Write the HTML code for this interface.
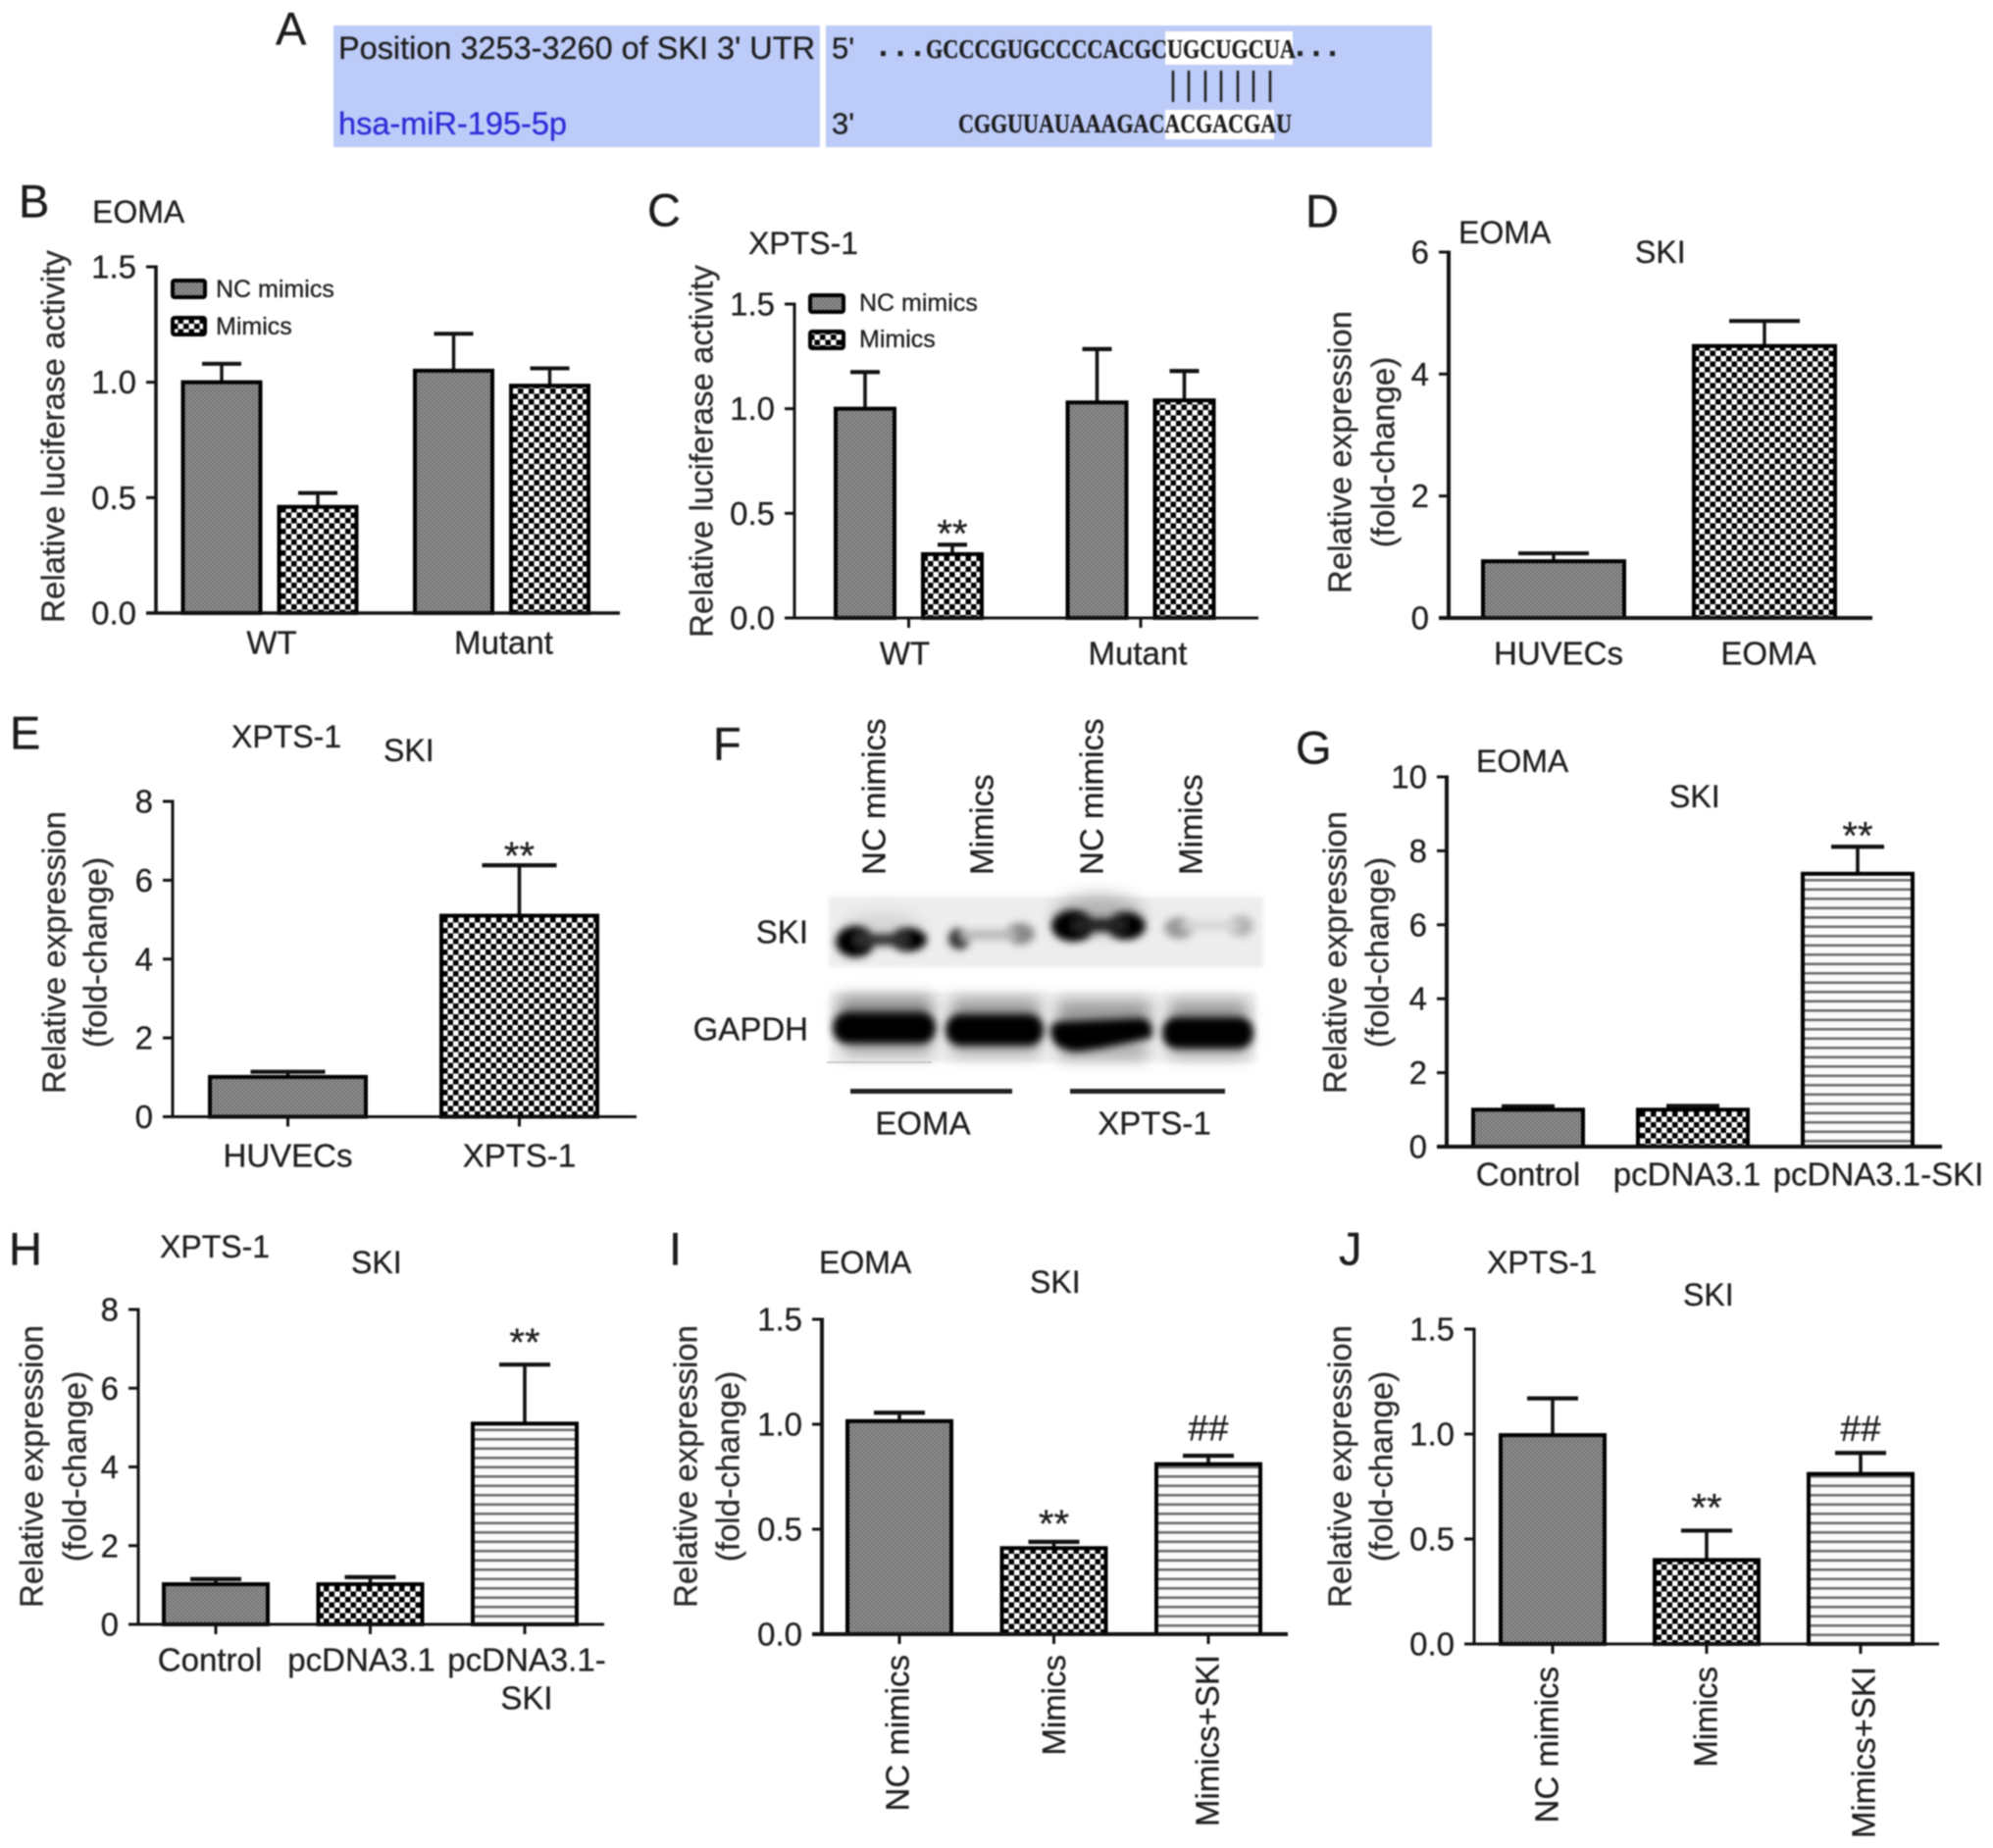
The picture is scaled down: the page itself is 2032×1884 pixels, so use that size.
<!DOCTYPE html>
<html lang="en">
<head>
<meta charset="utf-8">
<title>SKI expression figure</title>
<style>
html,body{margin:0;padding:0;background:#fff;}
#figure{display:block;width:2032px;height:1884px;filter:blur(0.7px);font-family:"Liberation Sans",Arial,sans-serif;fill:#1f1f1f;}
#figure text{dominant-baseline:central;stroke:#1f1f1f;stroke-width:0.3px;}
.letter{font-size:47px;fill:#1c1c1c;}
.title{font-size:32px;}
.ytitle{font-size:33px;fill:#2b2b2b;text-anchor:middle;}
.tick{font-size:33px;}
.seq{font-family:"Liberation Serif",serif;font-weight:bold;font-size:27px;fill:#1c1c1c;}
</style>
</head>
<body>
<svg id="figure" xmlns="http://www.w3.org/2000/svg" width="2032" height="1884" viewBox="0 0 2032 1884">
<defs>
  <pattern id="nc" width="4" height="4" patternUnits="userSpaceOnUse">
    <rect width="4" height="4" fill="#9a9a9a"/><rect width="2" height="2" fill="#686868"/><rect x="2" y="2" width="2" height="2" fill="#686868"/>
  </pattern>
  <pattern id="mim" width="11" height="11" patternUnits="userSpaceOnUse">
    <rect width="11" height="11" fill="#fff"/><rect width="5.5" height="5.5" fill="#000"/><rect x="5.5" y="5.5" width="5.5" height="5.5" fill="#000"/>
  </pattern>
  <pattern id="str" width="9.5" height="9.5" patternUnits="userSpaceOnUse">
    <rect width="9.5" height="9.5" fill="#fbfbfb"/><rect y="3" width="9.5" height="2.6" fill="#6e6e6e"/>
  </pattern>
  <filter id="b2" x="-10%" y="-30%" width="120%" height="160%"><feGaussianBlur stdDeviation="2"/></filter>
  <filter id="b4" x="-30%" y="-80%" width="160%" height="260%"><feGaussianBlur stdDeviation="4"/></filter>
  <filter id="b8" x="-30%" y="-80%" width="160%" height="260%"><feGaussianBlur stdDeviation="8"/></filter>
</defs>
<rect width="2032" height="1884" fill="#fff"/>

<!-- Panel letters -->
<g>
  <text class="letter" x="281" y="29">A</text>
  <text class="letter" x="19" y="205">B</text>
  <text class="letter" x="660" y="214">C</text>
  <text class="letter" x="1331" y="215">D</text>
  <text class="letter" x="10" y="747">E</text>
  <text class="letter" x="727" y="758">F</text>
  <text class="letter" x="1321" y="762">G</text>
  <text class="letter" x="9" y="1273">H</text>
  <text class="letter" x="682" y="1273">I</text>
  <text class="letter" x="1365" y="1273">J</text>
</g>

<!-- Panel A -->
<g>
  <rect x="340" y="26" width="496" height="124" fill="#bccbf8"/>
  <rect x="842" y="26" width="618" height="124" fill="#bccbf8"/>
  <rect x="1188" y="32" width="130" height="34" fill="#fff"/>
  <rect x="1188" y="112" width="111" height="30" fill="#fff"/>
  <text x="345" y="49" font-size="32" textLength="486" lengthAdjust="spacingAndGlyphs">Position 3253-3260 of SKI 3' UTR</text>
  <text x="345" y="126" font-size="32" style="fill:#2c2cd8;stroke:#2c2cd8" textLength="233" lengthAdjust="spacingAndGlyphs">hsa-miR-195-5p</text>
  <text x="848" y="49" font-size="31">5'</text>
  <text x="848" y="126" font-size="31">3'</text>
  <text x="896" y="46" font-size="32" font-weight="bold" textLength="44">...</text>
  <text class="seq" x="944" y="50" textLength="377" lengthAdjust="spacingAndGlyphs">GCCCGUGCCCCACGCUGCUGCUA</text>
  <text x="1321" y="46" font-size="32" font-weight="bold" textLength="42">...</text>
  <text class="seq" x="977" y="126" textLength="340" lengthAdjust="spacingAndGlyphs">CGGUUAUAAAGACACGACGAU</text>
  <g stroke="#222" stroke-width="2.6">
    <line x1="1196" x2="1196" y1="72" y2="104"/><line x1="1212" x2="1212" y1="72" y2="104"/>
    <line x1="1229" x2="1229" y1="72" y2="104"/><line x1="1245" x2="1245" y1="72" y2="104"/>
    <line x1="1262" x2="1262" y1="72" y2="104"/><line x1="1278" x2="1278" y1="72" y2="104"/>
    <line x1="1295" x2="1295" y1="72" y2="104"/>
  </g>
</g>

<!-- Titles -->
<g>
  <text class="title" x="94" y="216">EOMA</text>
  <text class="title" x="763" y="248">XPTS-1</text>
  <text class="title" x="1487" y="237">EOMA</text>
  <text class="title" x="1667" y="257">SKI</text>
  <text class="title" x="236" y="751">XPTS-1</text>
  <text class="title" x="391" y="765">SKI</text>
  <text class="title" x="1505" y="776">EOMA</text>
  <text class="title" x="1702" y="812">SKI</text>
  <text class="title" x="163" y="1271">XPTS-1</text>
  <text class="title" x="358" y="1287">SKI</text>
  <text class="title" x="835" y="1287">EOMA</text>
  <text class="title" x="1050" y="1307">SKI</text>
  <text class="title" x="1516" y="1287">XPTS-1</text>
  <text class="title" x="1716" y="1320">SKI</text>
</g>

<!-- Y axis titles -->
<g>
  <text class="ytitle" transform="translate(54,445) rotate(-90)">Relative luciferase activity</text>
  <text class="ytitle" transform="translate(715,460) rotate(-90)">Relative luciferase activity</text>
  <text class="ytitle" transform="translate(1366,461) rotate(-90)">Relative expression</text>
  <text class="ytitle" transform="translate(1410,461) rotate(-90)">(fold-change)</text>
  <text class="ytitle" transform="translate(55,971) rotate(-90)">Relative expression</text>
  <text class="ytitle" transform="translate(97,971) rotate(-90)">(fold-change)</text>
  <text class="ytitle" transform="translate(1361,971) rotate(-90)">Relative expression</text>
  <text class="ytitle" transform="translate(1404,971) rotate(-90)">(fold-change)</text>
  <text class="ytitle" transform="translate(32,1495) rotate(-90)">Relative expression</text>
  <text class="ytitle" transform="translate(76,1495) rotate(-90)">(fold-change)</text>
  <text class="ytitle" transform="translate(699,1495) rotate(-90)">Relative expression</text>
  <text class="ytitle" transform="translate(742,1495) rotate(-90)">(fold-change)</text>
  <text class="ytitle" transform="translate(1366,1495) rotate(-90)">Relative expression</text>
  <text class="ytitle" transform="translate(1408,1495) rotate(-90)">(fold-change)</text>
</g>

<!-- Panel F western blot -->
<g>
  <rect x="845" y="914" width="443" height="72" fill="#ededed" filter="url(#b2)"/>
  <rect x="846" y="1011" width="434" height="72" fill="#f1f1f1" filter="url(#b2)"/>
  <g>
    <ellipse cx="1120" cy="932" rx="46" ry="20" fill="#b4b4b4" filter="url(#b8)"/>
    <ellipse cx="900" cy="945" rx="40" ry="14" fill="#d4d4d4" filter="url(#b8)"/>
    <g filter="url(#b4)" fill="#000">
      <ellipse cx="872" cy="960" rx="20" ry="16"/><ellipse cx="926" cy="958" rx="19" ry="12"/><rect x="872" y="952" width="54" height="12" fill="#333"/>
      <ellipse cx="978" cy="957" rx="11" ry="11" fill="#333"/><ellipse cx="1040" cy="952" rx="15" ry="11" fill="#888"/><rect x="980" y="948" width="56" height="10" fill="#b8b8b8"/>
      <ellipse cx="1094" cy="944" rx="22" ry="16"/><ellipse cx="1148" cy="944" rx="20" ry="14"/><rect x="1094" y="936" width="54" height="14" fill="#222"/>
      <ellipse cx="1202" cy="946" rx="15" ry="11" fill="#999"/><ellipse cx="1265" cy="944" rx="13" ry="11" fill="#b4b4b4"/><rect x="1205" y="939" width="58" height="9" fill="#d4d4d4"/>
    </g>
  </g>
  <g>
    <rect x="855" y="1016" width="95" height="30" fill="#8a8a8a" filter="url(#b8)"/>
    <rect x="970" y="1018" width="90" height="30" fill="#999" filter="url(#b8)"/>
    <rect x="1078" y="1020" width="95" height="30" fill="#999" filter="url(#b8)"/>
    <rect x="1192" y="1020" width="80" height="30" fill="#999" filter="url(#b8)"/>
    <rect x="860" y="1050" width="90" height="26" fill="#aaa" filter="url(#b8)"/>
    <rect x="970" y="1052" width="90" height="24" fill="#aaa" filter="url(#b8)"/>
    <rect x="1080" y="1060" width="90" height="20" fill="#aaa" filter="url(#b8)"/>
    <rect x="1192" y="1056" width="80" height="22" fill="#aaa" filter="url(#b8)"/>
    <g filter="url(#b4)" fill="#000">
      <rect x="849" y="1032" width="105" height="32" rx="15"/>
      <rect x="964" y="1034" width="100" height="32" rx="15"/>
      <path d="M1071 1050 Q1071 1070 1097 1072 Q1122 1070 1174 1058 Q1178 1038 1160 1038 L1090 1041 Q1071 1040 1071 1050 Z"/>
      <rect x="1185" y="1037" width="93" height="32" rx="15"/>
    </g>
    <line x1="843" x2="950" y1="1083" y2="1083" stroke="#bbb" stroke-width="1.5"/>
  </g>
  <text class="tick" x="824" y="950" text-anchor="end">SKI</text>
  <text class="tick" x="824" y="1049" text-anchor="end">GAPDH</text>
  <text class="tick" transform="translate(891,892) rotate(-90)">NC mimics</text>
  <text class="tick" transform="translate(1001,892) rotate(-90)">Mimics</text>
  <text class="tick" transform="translate(1113,892) rotate(-90)">NC mimics</text>
  <text class="tick" transform="translate(1214,892) rotate(-90)">Mimics</text>
  <rect x="867" y="1110" width="165" height="5" fill="#222"/>
  <rect x="1091" y="1110" width="158" height="5" fill="#222"/>
  <text class="tick" x="941" y="1145" text-anchor="middle">EOMA</text>
  <text class="tick" x="1177" y="1145" text-anchor="middle">XPTS-1</text>
</g>

<!-- Legends -->
<g>
  <rect x="176" y="286" width="33" height="17" rx="2" fill="url(#nc)" stroke="#000" stroke-width="4"/>
  <text x="220" y="295" font-size="25">NC mimics</text>
  <rect x="176" y="324" width="33" height="17" rx="2" fill="url(#mim)" stroke="#000" stroke-width="4"/>
  <text x="220" y="333" font-size="25">Mimics</text>
</g>
<g>
  <rect x="826" y="301" width="34" height="17" rx="2" fill="url(#nc)" stroke="#000" stroke-width="4"/>
  <text x="876" y="309" font-size="25">NC mimics</text>
  <rect x="826" y="338" width="34" height="17" rx="2" fill="url(#mim)" stroke="#000" stroke-width="4"/>
  <text x="876" y="346" font-size="25">Mimics</text>
</g>
<g id="charts"></g>
</svg>

<script>
// Panel B
const bCategories = ['WT', 'Mutant'];
const bValues = [1.0, 0.46, 1.05, 0.985];
const bErrors = [0.08, 0.06, 0.16, 0.075];
const bTicks = ['0.0', '0.5', '1.0', '1.5'];
const bMarks = ['', '', '', ''];
// Panel C
const cCategories = ['WT', 'Mutant'];
const cValues = [1.0, 0.305, 1.03, 1.04];
const cErrors = [0.175, 0.045, 0.255, 0.14];
const cTicks = ['0.0', '0.5', '1.0', '1.5'];
const cMarks = ['', '**', '', ''];
// Panel D
const dCategories = ['HUVECs', 'EOMA'];
const dValues = [0.93, 4.46];
const dErrors = [0.13, 0.41];
const dTicks = ['0', '2', '4', '6'];
const dMarks = ['', ''];
// Panel E
const eCategories = ['HUVECs', 'XPTS-1'];
const eValues = [1.01, 5.1];
const eErrors = [0.13, 1.28];
const eTicks = ['0', '2', '4', '6', '8'];
const eMarks = ['', '**'];
// Panel G
const gCategories = ['Control', 'pcDNA3.1', 'pcDNA3.1-SKI'];
const gValues = [1.0, 1.0, 7.38];
const gErrors = [0.09, 0.10, 0.73];
const gTicks = ['0', '2', '4', '6', '8', '10'];
const gMarks = ['', '', '**'];
// Panel H
const hCategories = ['Control', 'pcDNA3.1', 'pcDNA3.1-\nSKI'];
const hValues = [1.02, 1.02, 5.1];
const hErrors = [0.13, 0.18, 1.5];
const hTicks = ['0', '2', '4', '6', '8'];
const hMarks = ['', '', '**'];
// Panel I
const iCategories = ['NC mimics', 'Mimics', 'Mimics+SKI'];
const iValues = [1.015, 0.41, 0.81];
const iErrors = [0.04, 0.03, 0.04];
const iTicks = ['0.0', '0.5', '1.0', '1.5'];
const iMarks = ['', '**', '##'];
// Panel J
const jCategories = ['NC mimics', 'Mimics', 'Mimics+SKI'];
const jValues = [0.995, 0.40, 0.81];
const jErrors = [0.175, 0.14, 0.10];
const jTicks = ['0.0', '0.5', '1.0', '1.5'];
const jMarks = ['', '**', '##'];

const NS = 'http://www.w3.org/2000/svg';
const chartsRoot = document.getElementById('charts');

function make(parent, tag, attrs, content) {
  const node = document.createElementNS(NS, tag);
  Object.keys(attrs).forEach(function (k) { node.setAttribute(k, attrs[k]); });
  if (content !== undefined) node.textContent = content;
  parent.appendChild(node);
  return node;
}

function drawChart(p) {
  const g = make(chartsRoot, 'g', {});
  
  

  const tickValues = p.ticks.map(parseFloat);
  const maxTick = Math.max.apply(null, tickValues);
  const yScale = function (v) { return p.yZero - (v / maxTick) * (p.yZero - p.yTop); };
  const perGroup = p.grouped ? 2 : 1;
  const xScale = function (i) {
    const group = Math.floor(i / perGroup);
    return p.first + i * p.step + group * (p.grouped ? p.groupGap : 0);
  };
  const groupCenter = function (c) {
    return p.grouped ? (xScale(c * 2) + xScale(c * 2 + 1)) / 2 : xScale(c);
  };
  const fills = p.grouped ? ['url(#nc)', 'url(#mim)'] : ['url(#nc)', 'url(#mim)', 'url(#str)'];

  p.values.forEach(function (v, i) {
    const cx = xScale(i);
    const top = yScale(v);
    const errTop = yScale(v + p.errors[i]);
    const stem = make(g, 'line', { x1: cx, x2: cx, y1: top, y2: errTop, stroke: '#111', 'stroke-width': p.err });
    
    
    const cap = make(g, 'line', { x1: cx - p.cap, x2: cx + p.cap, y1: errTop, y2: errTop, stroke: '#111', 'stroke-width': p.err + 0.6 });
    
    
    const bar = make(g, 'rect', { x: cx - p.barW / 2, y: top, width: p.barW, height: p.yZero - top, fill: fills[p.grouped ? i % 2 : i], stroke: '#000', 'stroke-width': 4 });
    
    
    if (p.marks[i]) {
      const isStar = p.marks[i] === '**';
      const mark = make(g, 'text', { x: cx, y: errTop - p.markGap[i] + (isStar ? 9 : 0), 'text-anchor': 'middle', 'font-size': isStar ? 40 : 37 }, p.marks[i]);
      
      
    }
  });

  const yAxis = make(g, 'line', { x1: p.axisX, x2: p.axisX, y1: p.yTop - 1.5, y2: p.yZero, stroke: '#111', 'stroke-width': p.axisW });
  
  
  const xAxis = make(g, 'line', { x1: p.axisX - 10, x2: p.xEnd, y1: p.yZero, y2: p.yZero, stroke: '#111', 'stroke-width': p.axisW });
  
  

  p.ticks.forEach(function (label, i) {
    const y = yScale(tickValues[i]);
    const mark = make(g, 'line', { x1: p.axisX - 10, x2: p.axisX, y1: y, y2: y, stroke: '#111', 'stroke-width': 3 });
    
    
    const text = make(g, 'text', { x: p.axisX - 20, y: y, 'text-anchor': 'end', 'class': 'tick' }, label);
    
    
  });

  p.categories.forEach(function (label, c) {
    const cx = groupCenter(c);
    if (p.xTicks) {
      const mark = make(g, 'line', { x1: cx, x2: cx, y1: p.yZero, y2: p.yZero + 10, stroke: '#111', 'stroke-width': 3 });
      
      
    }
    const dx = p.labelDx ? p.labelDx[c] : 0;
    if (p.rotated) {
      const text = make(g, 'text', { transform: 'translate(' + (cx + dx) + ',' + p.labelY + ') rotate(-90)', 'text-anchor': 'end', 'class': 'tick' }, label);
      
      
    } else {
      label.split('\n').forEach(function (line, n) {
        const text = make(g, 'text', { x: cx + dx, y: p.labelY + n * 39, 'text-anchor': 'middle', 'class': 'tick' }, line);
        
        
      });
    }
  });
}

drawChart({ id: 'b', categories: bCategories, values: bValues, errors: bErrors, ticks: bTicks, marks: bMarks, markGap: [0, 0, 0, 0],
  grouped: true, first: 226, step: 98, groupGap: 40.5, barW: 79, cap: 20, err: 3.4, axisX: 159, axisW: 3.6, yZero: 625, yTop: 272, xEnd: 632, xTicks: false, labelY: 655, labelDx: [2, 2] });
drawChart({ id: 'c', categories: cCategories, values: cValues, errors: cErrors, ticks: cTicks, marks: cMarks, markGap: [0, 20, 0, 0],
  grouped: true, first: 882, step: 89, groupGap: 58.5, barW: 60, cap: 15, err: 3.6, axisX: 810, axisW: 3, yZero: 630, yTop: 310, xEnd: 1283, xTicks: true, labelY: 666, labelDx: [-4, -3] });
drawChart({ id: 'd', categories: dCategories, values: dValues, errors: dErrors, ticks: dTicks, marks: dMarks, markGap: [0, 0],
  first: 1584, step: 215, barW: 144, cap: 36, err: 3.4, axisX: 1477, axisW: 4, yZero: 630, yTop: 257, xEnd: 1909, xTicks: false, labelY: 666, labelDx: [5, 4] });
drawChart({ id: 'e', categories: eCategories, values: eValues, errors: eErrors, ticks: eTicks, marks: eMarks, markGap: [0, 18],
  first: 293.5, step: 236, barW: 159, cap: 38, err: 3.6, axisX: 176, axisW: 3, yZero: 1138.5, yTop: 817, xEnd: 649, xTicks: true, labelY: 1178, labelDx: [0, 0] });
drawChart({ id: 'g', categories: gCategories, values: gValues, errors: gErrors, ticks: gTicks, marks: gMarks, markGap: [0, 0, 20],
  first: 1558, step: 168, barW: 112, cap: 27, err: 3.6, axisX: 1475, axisW: 4, yZero: 1169, yTop: 792, xEnd: 1980, xTicks: false, labelY: 1197, labelDx: [0, -6, 21] });
drawChart({ id: 'h', categories: hCategories, values: hValues, errors: hErrors, ticks: hTicks, marks: hMarks, markGap: [0, 0, 31],
  first: 220, step: 157.5, barW: 106, cap: 26, err: 3.6, axisX: 141, axisW: 3, yZero: 1656, yTop: 1335, xEnd: 616, xTicks: true, labelY: 1692, labelDx: [-6, -9, 2] });
drawChart({ id: 'i', categories: iCategories, values: iValues, errors: iErrors, ticks: iTicks, marks: iMarks, markGap: [0, 27, 28],
  first: 917, step: 157.5, barW: 106, cap: 26, err: 3.6, axisX: 838, axisW: 4, yZero: 1666, yTop: 1345, xEnd: 1313, xTicks: true, rotated: true, labelY: 1687, labelDx: [-2, 0, -1] });
drawChart({ id: 'j', categories: jCategories, values: jValues, errors: jErrors, ticks: jTicks, marks: jMarks, markGap: [0, 32, 25],
  first: 1583, step: 157, barW: 106, cap: 26, err: 3.6, axisX: 1503, axisW: 3, yZero: 1676, yTop: 1355, xEnd: 1977, xTicks: true, rotated: true, labelY: 1699, labelDx: [-6, -1, 3] });
</script>
</body>
</html>
